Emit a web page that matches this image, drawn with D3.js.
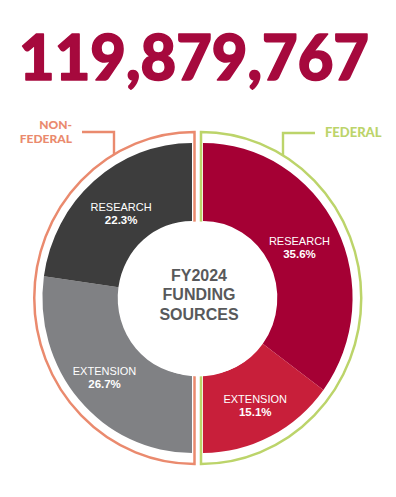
<!DOCTYPE html>
<html>
<head>
<meta charset="utf-8">
<script src="https://cdn.jsdelivr.net/npm/d3@7"></script>
<style>
  html, body { margin: 0; padding: 0; background: #ffffff; }
  svg { display: block; }
</style>
</head>
<body>
<div class="chart"></div>
<script>
// values
const totalFunding = 119879767;
const categories = ["RESEARCH", "EXTENSION"];
const federalValues = [35.6, 15.1];      // research, extension
const nonFederalValues = [22.3, 26.7];   // research, extension
const groupNames = ["FEDERAL", "NON-FEDERAL"];
const centerLines = ["FY2024", "FUNDING", "SOURCES"];

const width = 396;
const height = 497;

const svg = d3
  .select(".chart")
  .append("svg")
  .attr("width", width)
  .attr("height", height);

// big total
svg
  .append("text")
  .attr("x", 194)
  .attr("y", 80)
  .attr("text-anchor", "middle")
  .attr("fill", "#a6093d")
  .attr("stroke", "#a6093d")
  .attr("stroke-width", 1.6)
  .attr("stroke-linejoin", "round")
  .style("font-family", "Lato, 'Open Sans', sans-serif")
  .style("font-weight", 900)
  .style("font-size", "62px")
  .attr("textLength", 350)
  .attr("lengthAdjust", "spacingAndGlyphs")
  .text(d3.format(",")(totalFunding));

const cy = 298;
const sx = 0.965;
const innerR = 77;
const outerR = 155;
const outlineR = 166;

const arc = d3.arc().innerRadius(innerR).outerRadius(outerR);
const outlineArc = d3.arc().innerRadius(0).outerRadius(outlineR);

// federal half: clockwise from the top, research then extension
const federalPie = d3
  .pie()
  .sort(null)
  .startAngle(0)
  .endAngle(Math.PI)(federalValues);
federalPie.forEach((d, i) => (d.label = categories[i]));

// non-federal half: clockwise from the bottom, extension then research
const nonFedOrder = [1, 0];
const nonFederalPie = d3
  .pie()
  .sort(null)
  .startAngle(Math.PI)
  .endAngle(2 * Math.PI)(nonFedOrder.map((i) => nonFederalValues[i]));
nonFederalPie.forEach((d, i) => (d.label = categories[nonFedOrder[i]]));

const halves = [
  {
    name: groupNames[1],
    x: 192,
    slices: nonFederalPie,
    colors: ["#808184", "#3d3d3d"],
    outline: "#ea8a6e",
    outlineShift: 2.5,
    start: Math.PI,
    end: 2 * Math.PI
  },
  {
    name: groupNames[0],
    x: 203,
    slices: federalPie,
    colors: ["#a50034", "#c81f3a"],
    outline: "#bcd46a",
    outlineShift: -2,
    start: 0,
    end: Math.PI
  }
];

halves.forEach((h) => {
  // outline "D" around the half
  svg
    .append("path")
    .attr(
      "transform",
      `translate(${h.x + h.outlineShift},${cy}) scale(${sx},1)`
    )
    .attr("d", outlineArc({ startAngle: h.start, endAngle: h.end }))
    .attr("fill", "none")
    .attr("stroke", h.outline)
    .attr("stroke-width", 2.6)
    .attr("stroke-linejoin", "miter");

  const g = svg
    .append("g")
    .attr("transform", `translate(${h.x},${cy}) scale(${sx},1)`);

  g.selectAll("path")
    .data(h.slices)
    .join("path")
    .attr("d", arc)
    .attr("fill", (d, i) => h.colors[i]);
});

// white centre disc
svg
  .append("circle")
  .attr("cx", 198.5)
  .attr("cy", cy + 1)
  .attr("r", 77.5)
  .attr("fill", "#ffffff");

const centerText = svg
  .append("text")
  .attr("text-anchor", "middle")
  .attr("fill", "#58595b")
  .style("font-family", "'Liberation Sans', Arial, sans-serif")
  .style("font-weight", "bold")
  .style("font-size", "16px");
centerText
  .selectAll("tspan")
  .data(centerLines)
  .join("tspan")
  .attr("x", 199)
  .attr("y", (d, i) => 281 + i * 19.3)
  .text((d) => d);

// slice labels at arc centroids
const labelRadius = { RESEARCH: 112, EXTENSION: 120 };
halves.forEach((h) => {
  h.slices.forEach((d) => {
    const r = labelRadius[d.label];
    const [px, py] = d3.arc().innerRadius(r).outerRadius(r).centroid(d);
    const lx = h.x + px * sx;
    const ly = cy + py;
    const t = svg
      .append("text")
      .attr("text-anchor", "middle")
      .attr("fill", "#ffffff")
      .style("font-family", "'Liberation Sans', Arial, sans-serif");
    t.append("tspan")
      .attr("x", lx)
      .attr("y", ly - 2)
      .style("font-size", "11px")
      .text(d.label);
    t.append("tspan")
      .attr("x", lx)
      .attr("y", ly + 11)
      .style("font-size", "11.5px")
      .style("font-weight", "bold")
      .text(d.data.toFixed(1) + "%");
  });
});

// group labels with leader lines down to the outline
const outlineY = (x, h) =>
  cy -
  Math.sqrt(
    outlineR * outlineR -
      Math.pow((x - (h.x + h.outlineShift)) / sx, 2)
  );

const nonFed = halves[0];
const fed = halves[1];

svg
  .append("path")
  .attr("d", `M82,132 H114 V${outlineY(114, nonFed)}`)
  .attr("fill", "none")
  .attr("stroke", nonFed.outline)
  .attr("stroke-width", 2.4);

["NON-", "FEDERAL"].forEach((line, i) => {
  svg
    .append("text")
    .attr("x", 72)
    .attr("y", 129 + i * 14)
    .attr("text-anchor", "end")
    .attr("fill", nonFed.outline)
    .style("font-family", "Lato, 'Open Sans', sans-serif")
    .style("font-weight", 900)
    .style("font-size", "12px")
    .text(line);
});

svg
  .append("path")
  .attr("d", `M315,133 H283 V${outlineY(283, fed)}`)
  .attr("fill", "none")
  .attr("stroke", fed.outline)
  .attr("stroke-width", 2.4);

svg
  .append("text")
  .attr("x", 325)
  .attr("y", 137)
  .attr("fill", fed.outline)
  .style("font-family", "Lato, 'Open Sans', sans-serif")
  .style("font-weight", 900)
  .style("font-size", "13px")
  .text(fed.name);
</script>
</body>
</html>
